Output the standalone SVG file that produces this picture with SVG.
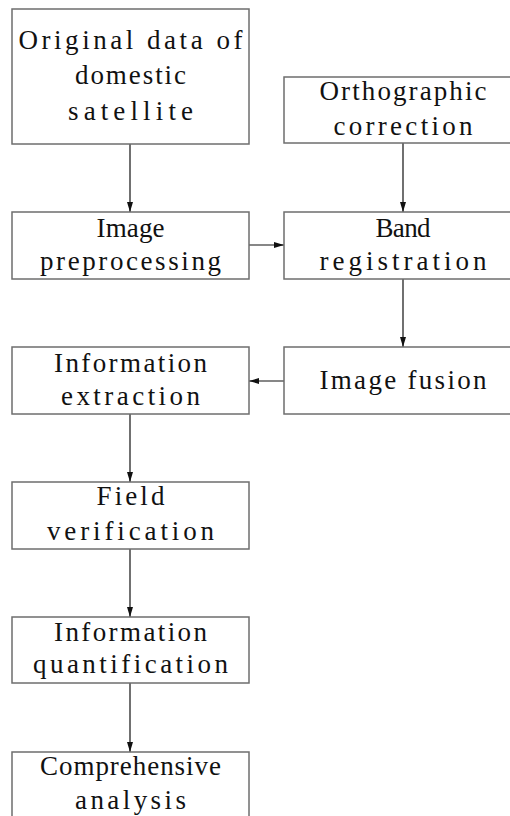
<svg xmlns="http://www.w3.org/2000/svg" width="510" height="816" viewBox="0 0 510 816">
  <style>
    .box { fill: #ffffff; stroke: #6e6e6e; stroke-width: 1.5; }
    .lbl { font-family: "Liberation Serif", "DejaVu Serif", serif; font-size: 27px; fill: #111111; text-anchor: middle; }
    .edge { stroke: #111111; stroke-width: 1.2; fill: none; marker-end: url(#arrow); }
  </style>
  <defs>
    <marker id="arrow" viewBox="0 0 10 6" refX="10" refY="3" markerWidth="10" markerHeight="6" markerUnits="userSpaceOnUse" orient="auto">
      <path d="M0,0 L10,3 L0,6 Z" fill="#111111"/>
    </marker>
  </defs>
  <rect width="510" height="816" fill="#ffffff"/>

  <g id="connectors">
    <line class="edge" x1="130" y1="144" x2="130" y2="212"/>
    <line class="edge" x1="403" y1="143" x2="403" y2="212"/>
    <line class="edge" x1="249" y1="245" x2="284" y2="245"/>
    <line class="edge" x1="403" y1="279" x2="403" y2="347"/>
    <line class="edge" x1="284" y1="381" x2="249" y2="381"/>
    <line class="edge" x1="130" y1="414" x2="130" y2="482"/>
    <line class="edge" x1="130" y1="549" x2="130" y2="617"/>
    <line class="edge" x1="130" y1="683" x2="130" y2="752"/>
  </g>

  <g id="original-data">
    <rect class="box" x="12" y="9" width="237" height="135"/>
    <text class="lbl" x="130.5" y="49" textLength="224" lengthAdjust="spacing">Original data of</text>
    <text class="lbl" x="130.5" y="84" textLength="111" lengthAdjust="spacing">domestic</text>
    <text class="lbl" x="130.5" y="120" textLength="125" lengthAdjust="spacing">satellite</text>
  </g>

  <g id="orthographic-correction">
    <rect class="box" x="284" y="77" width="237" height="66"/>
    <text class="lbl" x="403" y="100" textLength="167" lengthAdjust="spacing">Orthographic</text>
    <text class="lbl" x="403" y="135" textLength="139" lengthAdjust="spacing">correction</text>
  </g>

  <g id="image-preprocessing">
    <rect class="box" x="12" y="212" width="237" height="67"/>
    <text class="lbl" x="130.5" y="237" textLength="68" lengthAdjust="spacing">Image</text>
    <text class="lbl" x="130.5" y="270" textLength="181" lengthAdjust="spacing">preprocessing</text>
  </g>

  <g id="band-registration">
    <rect class="box" x="284" y="212" width="237" height="67"/>
    <text class="lbl" x="403" y="237" textLength="55" lengthAdjust="spacing">Band</text>
    <text class="lbl" x="403" y="270" textLength="167" lengthAdjust="spacing">registration</text>
  </g>

  <g id="information-extraction">
    <rect class="box" x="12" y="347" width="237" height="67"/>
    <text class="lbl" x="130.5" y="372" textLength="153" lengthAdjust="spacing">Information</text>
    <text class="lbl" x="130.5" y="405" textLength="139" lengthAdjust="spacing">extraction</text>
  </g>

  <g id="image-fusion">
    <rect class="box" x="284" y="347" width="237" height="67"/>
    <text class="lbl" x="403" y="389" textLength="167" lengthAdjust="spacing">Image fusion</text>
  </g>

  <g id="field-verification">
    <rect class="box" x="12" y="482" width="237" height="67"/>
    <text class="lbl" x="130.5" y="505" textLength="68" lengthAdjust="spacing">Field</text>
    <text class="lbl" x="130.5" y="540" textLength="167" lengthAdjust="spacing">verification</text>
  </g>

  <g id="information-quantification">
    <rect class="box" x="12" y="617" width="237" height="66"/>
    <text class="lbl" x="130.5" y="641" textLength="153" lengthAdjust="spacing">Information</text>
    <text class="lbl" x="130.5" y="673" textLength="195" lengthAdjust="spacing">quantification</text>
  </g>

  <g id="comprehensive-analysis">
    <rect class="box" x="12" y="752" width="237" height="80"/>
    <text class="lbl" x="130.5" y="775" textLength="181" lengthAdjust="spacing">Comprehensive</text>
    <text class="lbl" x="130.5" y="809" textLength="111" lengthAdjust="spacing">analysis</text>
  </g>
</svg>
